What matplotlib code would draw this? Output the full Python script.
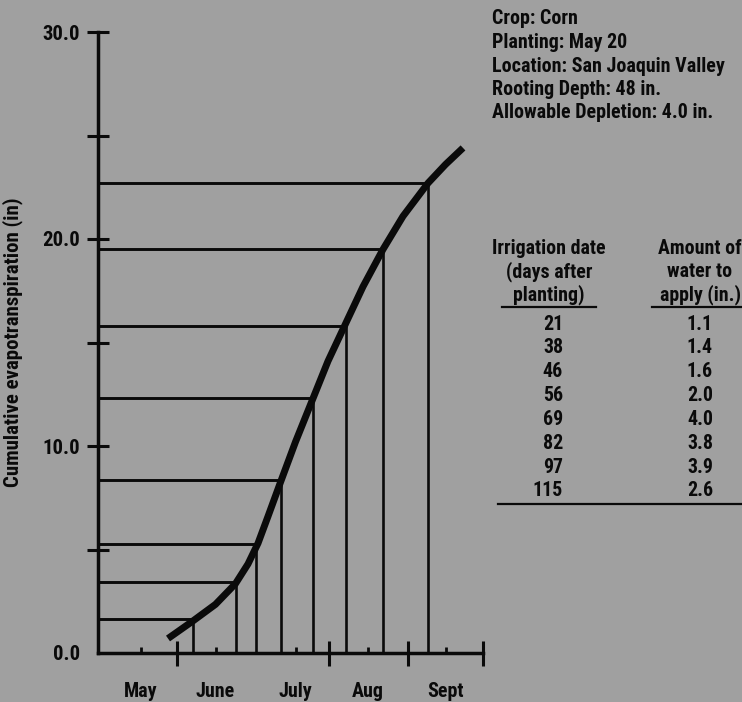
import matplotlib
matplotlib.use('Agg')
import matplotlib.pyplot as plt
from matplotlib import font_manager
from matplotlib.font_manager import FontProperties
from matplotlib.textpath import TextPath
from matplotlib.lines import Line2D

# cumulative ET curve (days after planting, inches)
curve_days = [11, 21, 30, 38, 43, 47, 51, 56, 62, 69, 75, 82, 89, 97, 105, 115, 122, 129]
curve_et = [0.7, 1.55, 2.35, 3.35, 4.3, 5.3, 6.6, 8.25, 10.2, 12.3, 14.1, 15.9, 17.7, 19.5,
            21.1, 22.7, 23.6, 24.4]

# irrigation events
irrig_days = [21, 38, 46, 56, 69, 82, 97, 115]
et_at_irrig = [1.64, 3.43, 5.27, 8.36, 12.3, 15.8, 19.5, 22.7]
water_in = ['1.1', '1.4', '1.6', '2.0', '4.0', '3.8', '3.9', '2.6']

month_days = [0, 30, 62, 91, 122]
month_names = ['May', 'June', 'July', 'Aug', 'Sept']
boundary_days = [14.6, 75.4, 107, 137]

y_major = [0, 10, 20, 30]
y_labels = ['0.0', '10.0', '20.0', '30.0']
y_minor = [5, 15, 25]

info_lines = ['Crop: Corn', 'Planting: May 20', 'Location: San Joaquin Valley',
              'Rooting Depth: 48 in.', 'Allowable Depletion: 4.0 in.']
head_left = ['Irrigation date', '(days after', 'planting)']
head_right = ['Amount of', 'water to', 'apply (in.)']

# the original uses a condensed bold face; take one if there is one
font = {'family': 'Roboto', 'weight': 'bold'}
names = {f.name for f in font_manager.fontManager.ttflist}
for nm in ['Liberation Sans Narrow', 'Roboto Condensed', 'Noto Sans Condensed',
           'Open Sans Condensed', 'DejaVu Sans Condensed', 'Arial Narrow']:
    if nm in names:
        font = {'family': nm, 'weight': 'bold'}
        break
else:
    for f in font_manager.fontManager.ttflist:
        if 'condensed' in str(f.stretch) and f.name in ('Noto Sans', 'Roboto', 'Open Sans', 'DejaVu Sans'):
            font = {'family': f.name, 'weight': 'bold', 'stretch': f.stretch}
            break


def fit(s, px):
    # font size (pt) that gives string s a width of px pixels at 100 dpi
    w = TextPath((0, 0), s, size=10, prop=FontProperties(**font)).get_extents().width
    return 10 * px / (w * 100 / 72)


fs_info = min(15, fit('Location: San Joaquin Valley', 231))
fs_table = min(15, fit('Irrigation date', 111))
fs_ytick = min(15, fit('30.0', 36))
fs_month = min(15, fit('June', 38))
fs_ylab = min(15, fit('Cumulative evapotranspiration (in)', 288))

bg = '#a0a0a0'
ink = '#0a0a0a'
W, H = 742, 702

fig = plt.figure(figsize=(7.42, 7.02), dpi=100, facecolor=bg)
ax = fig.add_axes([98 / W, 1 - 653 / H, (483 - 98) / W, (653 - 32) / H])
ax.set_facecolor('none')
ax.set_xlim(-17, 137)
ax.set_ylim(0, 30)

for s in ['top', 'right']:
    ax.spines[s].set_visible(False)
for s in ['left', 'bottom']:
    ax.spines[s].set_linewidth(2.5)
    ax.spines[s].set_color(ink)

ax.hlines(et_at_irrig, -17, irrig_days, color=ink, lw=2.1)
ax.vlines(irrig_days, 0, et_at_irrig, color=ink, lw=1.9)
ax.plot(curve_days, curve_et, color=ink, lw=5, solid_capstyle='butt',
        solid_joinstyle='round', clip_on=False, zorder=5)

ax.set_yticks(y_major)
ax.set_yticklabels(y_labels, **font)
ax.set_yticks(y_minor, minor=True)
ax.tick_params(axis='y', which='both', direction='inout', length=16, width=2.2,
               color=ink, pad=5, labelsize=fs_ytick, labelcolor=ink)
ax.yaxis.get_major_ticks()[0].tick1line.set_visible(False)
for lab in ax.get_yticklabels():
    lab.set_va('center_baseline')

ax.set_xticks(month_days)
ax.set_xticklabels(month_names, **font)
ax.set_xticks(boundary_days, minor=True)
ax.tick_params(axis='x', which='major', direction='in', length=4, width=2,
               color=ink, pad=21, labelsize=fs_month, labelcolor=ink)
ax.tick_params(axis='x', which='minor', direction='inout', length=18, width=2.2, color=ink)

ax.set_ylabel('Cumulative evapotranspiration (in)', fontsize=fs_ylab, color=ink, **font)
ax.yaxis.set_label_coords((23 - 98) / (483 - 98), 0.5)

for i, line in enumerate(info_lines):
    fig.text(492 / W, 1 - (18 + 23.5 * i + 6.5) / H, line, ha='left', va='baseline',
             fontsize=fs_info, color=ink, **font)

for i in range(3):
    yb = 1 - (247 + 23.5 * i + 6.5) / H
    fig.text(549 / W, yb, head_left[i], ha='center', va='baseline', fontsize=fs_table,
             color=ink, **font)
    fig.text(700 / W, yb, head_right[i], ha='center', va='baseline', fontsize=fs_table,
             color=ink, **font)

for i in range(len(irrig_days)):
    yb = 1 - (323 + 23.85 * i + 6.5) / H
    fig.text(563 / W, yb, str(irrig_days[i]), ha='right', va='baseline', fontsize=fs_table,
             color=ink, **font)
    fig.text(700 / W, yb, water_in[i], ha='center', va='baseline', fontsize=fs_table,
             color=ink, **font)

fig.add_artist(Line2D([502 / W, 596 / W], [1 - 307 / H] * 2, color=ink, lw=1.6))
fig.add_artist(Line2D([652 / W, 1.0], [1 - 307 / H] * 2, color=ink, lw=1.6))
fig.add_artist(Line2D([498 / W, 1.0], [1 - 504 / H] * 2, color=ink, lw=1.6))

fig.savefig('out.png', dpi=100, facecolor=bg)
